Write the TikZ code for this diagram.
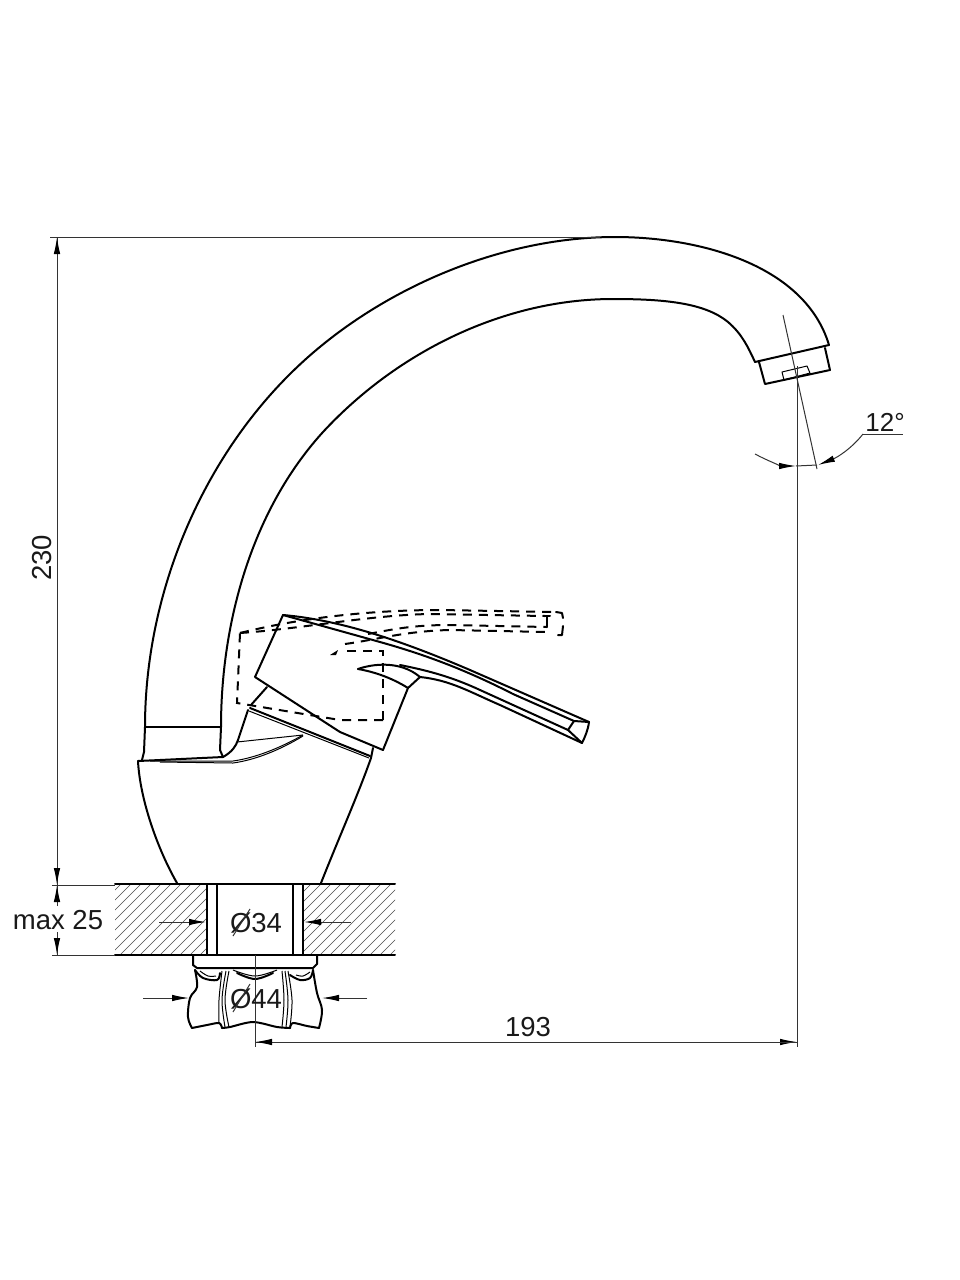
\documentclass[tikz,border=0pt]{standalone}
\usepackage{fontspec}
\setmainfont{Liberation Sans}
\usetikzlibrary{arrows.meta}
\tikzset{
  obj/.style={line width=2pt,line join=round,line cap=round,black},
  thinobj/.style={line width=1pt,line join=round,black},
  dim/.style={line width=1pt,black!80},
  dimarrow/.style={dim,-{Latex[length=17pt,width=6.5pt,black]}},
  dashedline/.style={line width=2pt,black,dash pattern=on 9pt off 7pt},
  hatchline/.style={line width=0.6pt,black!70},
  label/.style={font=\fontsize{27.5}{27.5}\selectfont,inner sep=0pt,text=black!90}
}
\begin{document}
\begin{tikzpicture}[x=1pt,y=-1pt]
\useasboundingbox (0,0) rectangle (960,1280);
\fill[white] (0,0) rectangle (960,1280);
% hatching
\begin{scope}
\clip (115,884) rectangle (207,955);
\foreach \k in {0,...,17}{\draw[hatchline] (50+10*\k,955) -- (121+10*\k,884);}
\end{scope}
\begin{scope}
\clip (303,884) rectangle (395,955);
\foreach \k in {0,...,17}{\draw[hatchline] (240+10*\k,955) -- (311+10*\k,884);}
\end{scope}
% spout
\draw[obj] (145,727) .. controls (145,590) and (205,449) .. (307,358)
  .. controls (389,285) and (505,237) .. (615,237)
  .. controls (700,237) and (805,265) .. (829,345);
\draw[obj] (221,727) .. controls (221,622) and (252,510) .. (323,432)
  .. controls (398,351) and (505,299) .. (613,299)
  .. controls (665,299) and (705,303) .. (728,322)
  .. controls (742,334) and (748,347) .. (755,362);
\draw[obj] (145,727) -- (221,727);
\draw[obj] (145,727) -- (144,752) -- (142,760);
\draw[obj] (221,727) -- (220,750) -- (223,757);
\draw[obj] (755,362) -- (829,345);
\draw[obj] (759,362) -- (765,384) -- (830,370) -- (825,348);
\draw[thinobj] (782,372) -- (807,366) -- (810,373) -- (784,380) -- cycle;
% body
\draw[obj] (138,761) -- (160,760) -- (223,757);
\draw[obj] (138,761) .. controls (140,800) and (158,850) .. (177,883);
\draw[obj] (371,758) .. controls (358,795) and (340,835) .. (321,883);
\draw[obj] (223,757) .. controls (232,752) and (236,746) .. (238,740) -- (248,710);
\draw[thinobj] (237,742) -- (303,735);
\draw[thinobj] (303,735) .. controls (280,748) and (255,758) .. (233,761) -- (150,761);
\draw[thinobj] (303,736) .. controls (280,750) and (255,760) .. (233,763) -- (160,762);
% lever plate
\draw[obj] (250,708) -- (370,756);
\draw[thinobj] (249,711) -- (369,758);
\draw[obj] (251,705) -- (267,687);
\draw[obj] (373,748) -- (371,758);
% lever
\draw[obj] (283,615) -- (255,677) -- (340,732) -- (383,750) -- (408,688);
\draw[obj] (283,615) .. controls (340,620) and (400,640) .. (470,670) -- (589,722);
\draw[obj] (283,615) -- (380,642) .. controls (430,656) and (470,672) .. (513,694) -- (574,721);
\draw[obj] (589,722) -- (574,721) -- (568,730);
\draw[obj] (589,722) .. controls (588,730) and (585,737) .. (582,743);
\draw[obj] (420,677) .. controls (450,680) and (470,692) .. (500,705) -- (582,743);
\draw[obj] (400,665) .. controls (425,670) and (450,676) .. (480,690) -- (568,730);
\draw[obj] (358,669) .. controls (372,664) and (400,660) .. (420,677);
\draw[obj] (358,669) .. controls (375,672) and (392,678) .. (408,688);
\draw[obj] (408,688) -- (420,677);
\draw[obj] (568,730) -- (582,743);
% dashed position
\draw[dashedline] (383,720) -- (340,720) -- (237,703) -- (240,633);
\draw[dashedline] (383,720) -- (383,651) -- (345,651);
\fill (330,655) -- (338,650) -- (336,655) -- cycle;
\draw[dashedline] (240,633) .. controls (300,618) and (370,610) .. (440,610) -- (555,612);
\draw[dashedline] (240,633) .. controls (300,629) and (370,615) .. (430,614) -- (545,616);
\draw[dashedline] (368,634) .. controls (390,630) and (410,625) .. (450,625) -- (547,627);
\draw[dashedline] (345,644) .. controls (375,640) and (405,631) .. (450,630) -- (547,632);
\draw[obj] (556,612) -- (562,613) -- (563,618);
\draw[obj] (563,626) -- (562,635) -- (558,635);
\draw[obj] (543,616) -- (550,616) (547,616) -- (547,627);
% counter
\draw[obj] (115,884) -- (395,884);
\draw[obj] (115,955) -- (395,955);
\draw[obj] (207,884) -- (207,955) (217,884) -- (217,955) (293,884) -- (293,955) (303,884) -- (303,955);
% nut
\draw[obj] (193,955) -- (193,965) -- (197,968) -- (313,968) -- (317,964) -- (317,955);
\draw[obj] plot[smooth,tension=0.6] coordinates {(195,970) (197,987) (190,998) (188,1017) (192,1028)};
\draw[obj] plot[smooth,tension=0.5] coordinates {(192,1028) (207,1025) (219,1023) (222,1028)};
\draw[obj] plot[smooth,tension=0.5] coordinates {(222,1028) (230,1027) (253,1022) (277,1027) (290,1028)};
\draw[obj] plot[smooth,tension=0.5] coordinates {(290,1028) (293,1023) (307,1026) (319,1028)};
\draw[obj] plot[smooth,tension=0.6] coordinates {(319,1028) (322,1010) (317,993) (313,970)};
\draw[thinobj] plot[smooth,tension=0.6] coordinates {(222,971) (219,1000) (219,1023)};
\draw[thinobj] plot[smooth,tension=0.6] coordinates {(229,971) (225,1000) (229,1027)};
\draw[thinobj] plot[smooth,tension=0.6] coordinates {(226,971) (222,1000) (225,1027)};
\draw[thinobj] plot[smooth,tension=0.6] coordinates {(282,971) (284,1000) (282,1027)};
\draw[thinobj] plot[smooth,tension=0.6] coordinates {(288,971) (292,1000) (290,1027)};
\draw[thinobj] plot[smooth,tension=0.6] coordinates {(285,971) (288,1000) (286,1027)};
\draw[obj] plot[smooth,tension=0.6] coordinates {(237,973) (255,979) (273,973)};
\draw[thinobj] plot[smooth,tension=0.6] coordinates {(233,970) (255,976) (277,970)};
\draw[obj] plot[smooth,tension=0.6] coordinates {(195,970) (203,978) (217,980) (220,973)};
\draw[thinobj] plot[smooth,tension=0.6] coordinates {(200,971) (208,976) (216,976)};
\draw[obj] plot[smooth,tension=0.6] coordinates {(290,975) (300,980) (310,978) (313,970)};
\draw[thinobj] plot[smooth,tension=0.6] coordinates {(296,975) (303,976) (310,972)};
% dimension geometry
\coordinate (top) at (57,237);
\coordinate (mid) at (57,885);
\coordinate (low) at (57,955);
\draw[dim] (50,237) -- (600,237);
\draw[dim] (52,885) -- (115,885);
\draw[dim] (52,955) -- (115,955);
\draw[dim] (top) -- (mid);
\draw[dimarrow] (57,270) -- (top);
\draw[dimarrow] (57,850) -- (mid);
\draw[dim] (mid) -- (57,906);
\draw[dim] (57,932) -- (low);
\draw[dimarrow] (57,906) -- (mid);
\draw[dimarrow] (57,932) -- (low);
\draw[dimarrow] (159,922) -- (206,922);
\draw[dimarrow] (351,922) -- (304,922);
\draw[dimarrow] (143,998) -- (189,998);
\draw[dimarrow] (367,998) -- (322,998);
\coordinate (dl) at (255,1042);
\coordinate (dr) at (797,1042);
\draw[dim] (255,955) -- (255,1047);
\draw[dim] (797,378) -- (797,1047);
\draw[dimarrow] (dl) -- (dr);
\draw[dimarrow] (dr) -- (dl);
% angle
\draw[dim] (783,315) -- (817,469);
\draw[dim] (797,366) -- (797,378);
\draw[dimarrow] (755,454) .. controls (768,461) and (782,466) .. (796,466);
\draw[dim] (796,466) -- (817,465);
\draw[dimarrow] (863,434) .. controls (852,448) and (838,457) .. (818,465);
\draw[dim] (863,434) -- (903,434);
% labels
\node[label,rotate=90] (t230) at (42,558) {230};
\node[label] (tmax) at (58,920) {max 25};
\node[label] (t34) at (256,923) {Ø34};
\node[label] (t44) at (256,999) {Ø44};
\node[label] (t193) at (528,1027) {193};
\node[label,font=\fontsize{26}{26}\selectfont] (t12) at (885,422) {12°};
\draw[dim] (233,936) -- (250,909);
\draw[dim] (233,1012) -- (250,984);
\end{tikzpicture}
\end{document}
